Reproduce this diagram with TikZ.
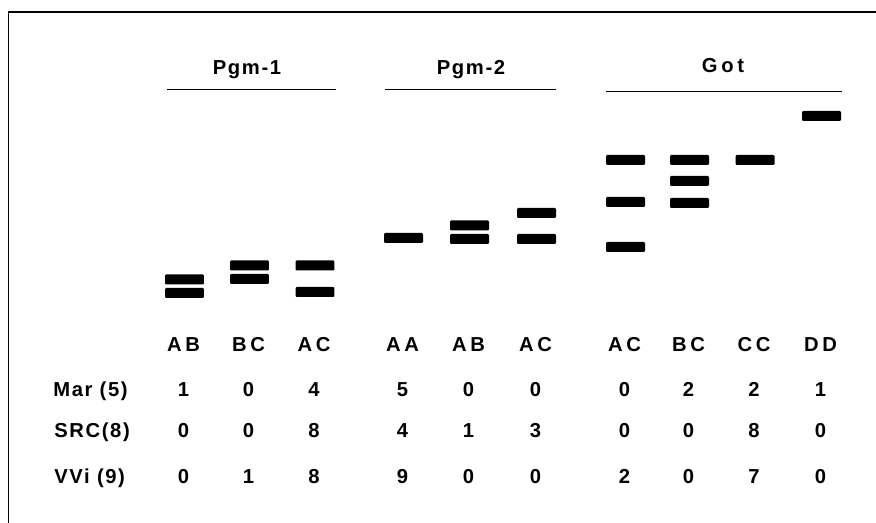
\documentclass[tikz,border=0pt]{standalone}
\usepackage{fontspec}
\newfontfamily\gelfont{Liberation Sans}[LetterSpace=8]
\newfontfamily\genofont{Liberation Sans}[LetterSpace=18]

\tikzset{
  band/.style={fill=black, rounded corners=0.6pt, minimum width=0.78cm, minimum height=0.2cm, inner sep=0pt},
  lbl/.style={font=\gelfont\bfseries\fontsize{11.5}{13}\selectfont, inner sep=0pt, anchor=base},
  geno/.style={lbl, font=\genofont\bfseries\fontsize{11.5}{13}\selectfont},
  rule/.style={line width=0.5pt},
}

\begin{document}
\begin{tikzpicture}[x=0.02cm,y=-0.02cm]
\useasboundingbox (0,0) rectangle (876,523);
% frame: only top and left side show
\draw[line width=0.9pt] (876,12) -- (8.5,12) -- (8.5,523);

% locus names with a rule under each
\node[lbl] (pgm1) at (247,75) {Pgm-1};
\node[lbl] (pgm2) at (471,75) {Pgm-2};
\node[geno] (got) at (723,73) {Got};
\draw[rule] (167,89) -- (336,89);
\draw[rule] (385,89) -- (556,89);
\draw[rule] (606,91) -- (842,91);

% bands, one column per genotype
\foreach \x/\ys [count=\c] in {184.5/{279.5,293}, 249.5/{265.5,279}, 315/{265.5,292},
    403.5/{238}, 469.5/{225.5,239}, 536.5/{213,239},
    625.5/{160,202,247}, 689.5/{160,181,203}, 755/{160}, 821.5/{116}} {
  \foreach \y [count=\k] in \ys {
    \node[band] (band\c-\k) at (\x,\y) {};
  }
}

% genotypes and counts per population
\foreach \x/\g/\m/\s/\v [count=\c] in {184.5/AB/1/0/0, 249.5/BC/0/0/1, 315/AC/4/8/8,
    403.5/AA/5/4/9, 469.5/AB/0/1/0, 536.5/AC/0/3/0,
    625.5/AC/0/0/2, 689.5/BC/2/0/0, 755/CC/2/8/7, 821.5/DD/1/0/0} {
  \node[geno] (geno\c) at (\x-1,352) {\g};
  \node[lbl] (mar\c) at (\x-1,397) {\m};
  \node[lbl] (src\c) at (\x-1,438) {\s};
  \node[lbl] (vvi\c) at (\x-1,483) {\v};
}

% population names
\node[lbl, anchor=base west] (mar) at (53,397) {Mar (5)};
\node[lbl, anchor=base west] (src) at (54,438) {SRC(8)};
\node[lbl, anchor=base west] (vvi) at (54,483) {VVi (9)};
\end{tikzpicture}
\end{document}
